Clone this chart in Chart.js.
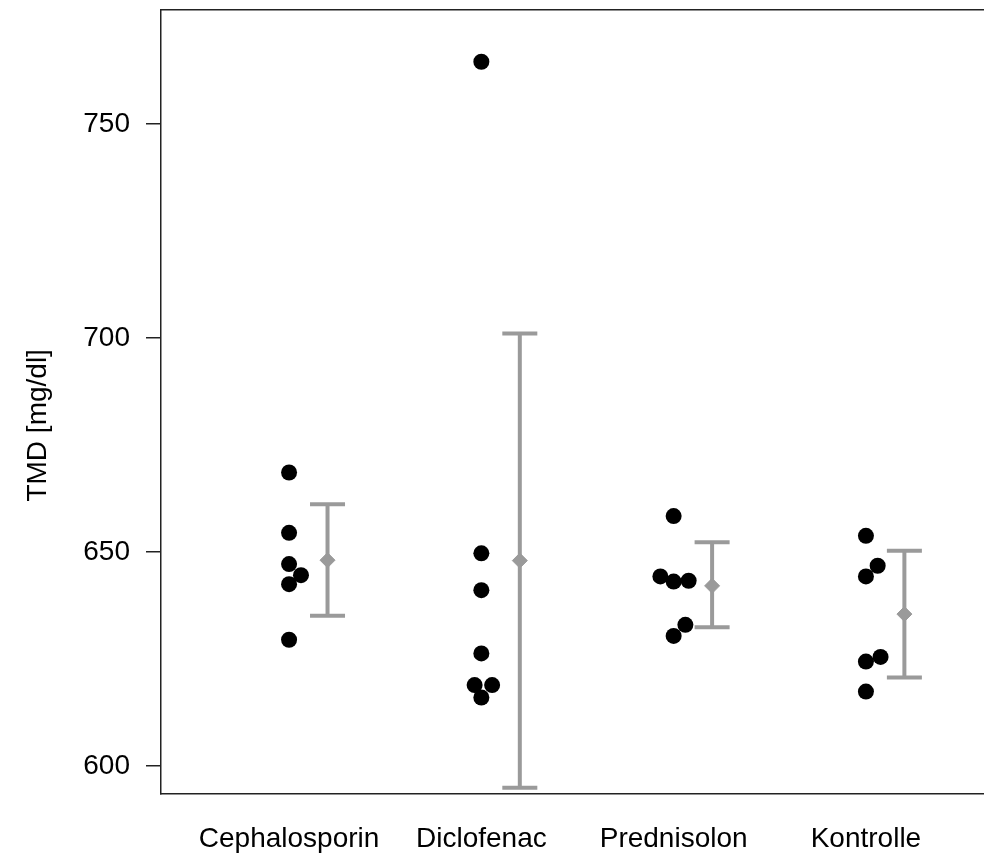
<!DOCTYPE html>
<html><head><meta charset="utf-8">
<script src="https://cdn.jsdelivr.net/npm/chart.js@4.4.0/dist/chart.umd.min.js"></script>
<style>html,body{margin:0;padding:0;background:#fff;overflow:hidden}#wrap{width:984px;height:861px;position:relative}</style>
</head><body><div id="wrap"><canvas id="c" width="984" height="861"></canvas></div>
<script>
// ---- data ----
const categories = ['Cephalosporin', 'Diclofenac', 'Prednisolon', 'Kontrolle'];
const cephalosporin = [668.6, 654.5, 647.2, 642.5, 629.5, 644.6];
const diclofenac    = [764.6, 649.7, 641.1, 626.3, 618.9, 618.9, 616.0];
const prednisolon   = [658.4, 644.3, 643.1, 643.3, 633.0, 630.4];
const kontrolle     = [653.8, 646.8, 644.3, 625.5, 624.4, 617.4];
// horizontal dodge of overlapping dots (category units)
const cephalosporinDodge = [0, 0, 0, 0, 0, 0.062];
const diclofenacDodge    = [0, 0, 0, 0, -0.035, 0.056, 0];
const prednisolonDodge   = [0, -0.069, 0, 0.078, 0.061, 0];
const kontrolleDodge     = [0, 0.061, 0, 0.076, 0, 0];
const means   = [648.1, 648.0, 642.1, 635.5];
const lowerSD = [635.1, 594.9, 632.4, 620.7];
const upperSD = [661.2, 701.1, 652.3, 650.3];
const yTicks = [600, 650, 700, 750];

const groups = [cephalosporin, diclofenac, prednisolon, kontrolle];
const dodges = [cephalosporinDodge, diclofenacDodge, prednisolonDodge, kontrolleDodge];
const BAR_SHIFT = 0.2;
const GREY = '#9a9a9a';
const FONT = "'Liberation Sans', Arial, sans-serif";

const datasets = [];
datasets.push({
  label: 'mean',
  data: means.map((m, i) => ({x: i + 1 + BAR_SHIFT, y: m})),
  pointStyle: 'rectRot', pointRadius: 7.5, backgroundColor: GREY, borderColor: GREY, borderWidth: 1, showLine: false
});
groups.forEach((g, i) => {
  datasets.push({
    label: categories[i],
    data: g.map((v, j) => ({x: i + 1 + dodges[i][j], y: v})),
    pointStyle: 'circle', pointRadius: 8, backgroundColor: '#000', borderColor: '#000', borderWidth: 0, showLine: false
  });
});
categories.forEach((c, i) => {
  datasets.push({
    type: 'line',
    label: c + ' sd',
    data: [{x: i + 1 + BAR_SHIFT, y: lowerSD[i]}, {x: i + 1 + BAR_SHIFT, y: upperSD[i]}],
    borderColor: GREY, borderWidth: 4, showLine: true, fill: false,
    pointStyle: 'line', pointRadius: 17.5, pointBorderColor: GREY, pointBorderWidth: 4, pointBackgroundColor: GREY
  });
});

const noPad = s => { s.paddingTop = 0; s.paddingBottom = 0; s.paddingLeft = 0; s.paddingRight = 0; };

new Chart(document.getElementById('c'), {
  type: 'scatter',
  data: {datasets},
  options: {
    responsive: false, animation: false, devicePixelRatio: 1,
    layout: {autoPadding: false, padding: {top: 10, left: 0, right: 0, bottom: 0}},
    plugins: {legend: {display: false}, tooltip: {enabled: false}},
    scales: {
      x: {
        type: 'linear', position: 'bottom', min: 0.334, max: 4.614,
        afterBuildTicks: s => { s.ticks = [1, 2, 3, 4].map(v => ({value: v})); },
        afterFit: s => { s.height = 67; noPad(s); },
        ticks: {autoSkip: false, maxRotation: 0, padding: 28, color: '#000',
          font: {family: FONT, size: 28},
          callback: v => categories[v - 1]},
        grid: {drawOnChartArea: false, drawTicks: false},
        border: {display: true, color: '#222', width: 1.5}
      },
      xTop: {
        type: 'linear', position: 'top', min: 0.334, max: 4.614,
        afterFit: s => { s.height = 0; noPad(s); },
        ticks: {display: false},
        grid: {drawOnChartArea: false, drawTicks: false},
        border: {display: true, color: '#222', width: 1.5}
      },
      y: {
        type: 'linear', min: 593.45, max: 776.7,
        afterBuildTicks: s => { s.ticks = yTicks.map(v => ({value: v})); },
        afterFit: s => { s.width = 161; noPad(s); },
        ticks: {padding: 16, color: '#000', font: {family: FONT, size: 28}},
        grid: {drawOnChartArea: false, drawTicks: true, tickLength: 15, color: '#222', lineWidth: 1.5},
        border: {display: true, color: '#222', width: 1.5},
        title: {display: true, text: 'TMD [mg/dl]      ', color: '#000', font: {family: FONT, size: 28}, padding: {top: 21, bottom: 0}}
      }
    }
  }
});
</script></body></html>
